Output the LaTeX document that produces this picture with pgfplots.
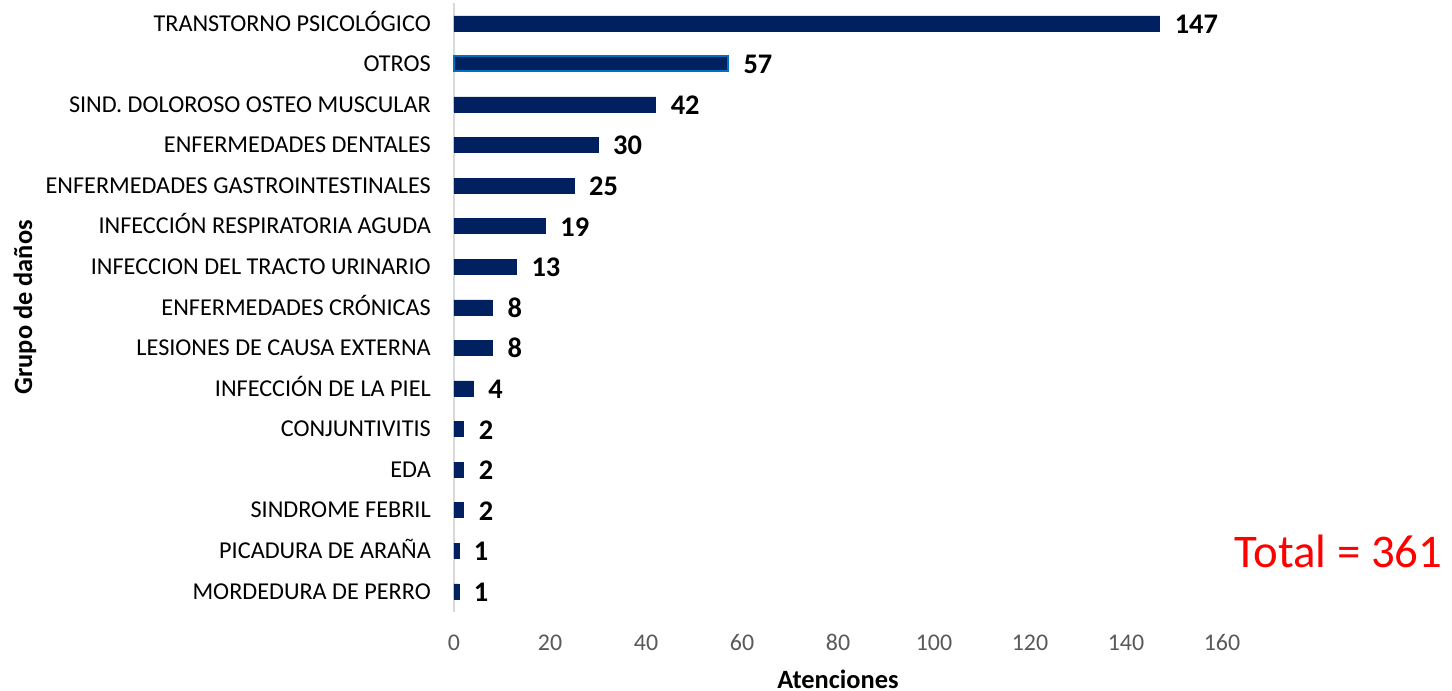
\documentclass[border=0pt]{standalone}
\usepackage{pgfplots}
\pgfplotsset{compat=1.18}
\usepackage{fontspec}
\setmainfont{Carlito}
\definecolor{barblue}{RGB}{0,32,96}
\definecolor{edgeblue}{RGB}{0,112,192}
\definecolor{tickgray}{RGB}{89,89,89}
\definecolor{axisgray}{RGB}{217,217,217}
\begin{document}
\begin{tikzpicture}[x=1bp,y=1bp]
\path[use as bounding box] (-454,-79.4) rectangle (998,611.6);
\begin{axis}[
  at={(0,0)}, anchor=south west,
  width=768bp, height=608.6bp, scale only axis,
  xmin=0, xmax=160, ymin=-0.5, ymax=14.5,
  clip=false,
  /pgf/number format/assume math mode=true,
  xbar, bar width=15bp, bar shift=0pt,
  xtick={0,20,...,160},
  ytick={0,...,14},
  yticklabels={MORDEDURA DE PERRO, PICADURA DE ARAÑA, SINDROME FEBRIL, EDA, CONJUNTIVITIS, INFECCIÓN DE LA PIEL, LESIONES DE CAUSA EXTERNA, ENFERMEDADES CRÓNICAS, INFECCION DEL TRACTO URINARIO, INFECCIÓN RESPIRATORIA AGUDA, ENFERMEDADES GASTROINTESTINALES, ENFERMEDADES DENTALES, SIND. DOLOROSO OSTEO MUSCULAR, OTROS, TRANSTORNO PSICOLÓGICO},
  major tick length=0pt,
  axis y line*=left, axis x line*=bottom,
  x axis line style={draw=none},
  y axis line style={draw=axisgray, line width=1.5bp, -},
  xticklabel style={font=\fontsize{24}{24}\selectfont, text=tickgray, anchor=base, inner sep=0pt, yshift=-38.5bp},
  yticklabel style={font=\fontsize{24.3}{24.3}\selectfont, text=black, anchor=base east, inner sep=0pt, xshift=-23bp, yshift=-7.8bp},
  point meta=x,
  nodes near coords,
  nodes near coords style={font=\bfseries\fontsize{28.5}{28.5}\selectfont, text=black, anchor=base west, inner sep=0pt, xshift=15bp, yshift=-10bp},
]
\addplot[fill=barblue, draw=barblue] coordinates {(1,0) (1,1) (2,2) (2,3) (2,4) (4,5) (8,6) (8,7) (13,8) (19,9) (25,10) (30,11) (42,12) (147,14)};
\addplot[fill=barblue, draw=edgeblue, line width=2bp] coordinates {(57,13)};
\node[font=\fontsize{47}{47}\selectfont, text=red, anchor=base] at (axis cs:184.3,0.97) [yshift=-15.5bp] {Total = 361};
\node[font=\bfseries\fontsize{26.5}{26.5}\selectfont, anchor=base, inner sep=0pt] at ([yshift=-77bp]rel axis cs:0.5,0) {Atenciones};
\node[font=\bfseries\fontsize{26.5}{26.5}\selectfont, anchor=center, rotate=90] at ([xshift=-429bp]rel axis cs:0,0.5) {Grupo de daños};
\end{axis}
\end{tikzpicture}
\end{document}
